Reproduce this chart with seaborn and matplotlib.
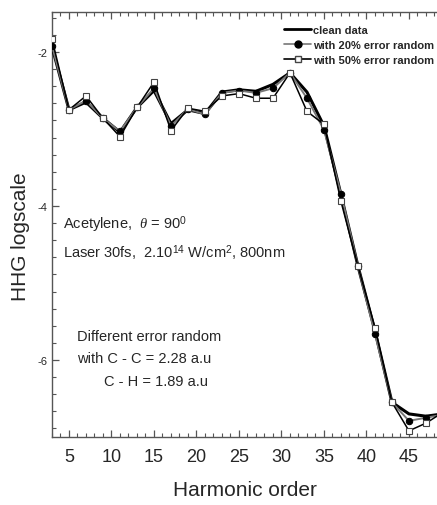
import numpy as np
import pandas as pd
import matplotlib
matplotlib.use("Agg")
import matplotlib.pyplot as plt
from matplotlib.ticker import MultipleLocator
from matplotlib.lines import Line2D
import seaborn as sns

harmonics = [3, 5, 7, 9, 11, 13, 15, 17, 19, 21, 23, 25, 27, 29, 31, 33, 35, 37, 39, 41, 43, 45, 47, 49]
clean = [-1.93, -2.75, -2.65, -2.86, -3.04, -2.72, -2.50, -2.93, -2.75, -2.80, -2.52, -2.49,
         -2.51, -2.42, -2.27, -2.52, -2.96, -3.85, -4.78, -5.62, -6.55, -6.70, -6.73, -6.70]
err20 = [-1.92, -2.75, -2.63, -2.86, -3.03, -2.72, -2.47, -2.96, -2.74, -2.81, -2.53, -2.50,
         -2.53, -2.47, -2.27, -2.60, -3.01, -3.84, -4.78, -5.66, -6.55, -6.79, -6.75, -6.71]
err50 = [-1.83, -2.75, -2.57, -2.86, -3.10, -2.72, -2.39, -3.02, -2.73, -2.77, -2.57, -2.54,
         -2.60, -2.60, -2.27, -2.77, -2.94, -3.94, -4.78, -5.58, -6.55, -6.92, -6.82, -6.68]

sns.set_style("ticks")
plt.rcParams['font.family'] = ['Liberation Sans', 'DejaVu Sans']
plt.rcParams['mathtext.fontset'] = 'custom'
plt.rcParams['mathtext.it'] = 'Liberation Serif:italic'
plt.rcParams['mathtext.rm'] = 'Liberation Sans'

fig = plt.figure(figsize=(4.37, 5.06), dpi=100)
ax = fig.add_axes([52/437, 68/506, (437-52)/437, (438-13)/506])

df = pd.DataFrame({"H": harmonics, "clean": clean, "e20": err20, "e50": err50})

sns.lineplot(data=df, x="H", y="clean", ax=ax, color="black", lw=2.2, zorder=3)
sns.lineplot(data=df, x="H", y="e20", ax=ax, color="#777777", lw=1.4, marker="o",
             markersize=4.6, markerfacecolor="black", markeredgecolor="black", zorder=4)
sns.lineplot(data=df, x="H", y="e50", ax=ax, color="black", lw=1.1, marker="s",
             markersize=5, markerfacecolor="white", markeredgecolor="#444444",
             markeredgewidth=0.8, zorder=5)

ax.set_xlim(3, 48.3)
ax.set_ylim(-7.0, -1.48)
ax.xaxis.set_major_locator(MultipleLocator(5))
ax.xaxis.set_minor_locator(MultipleLocator(1))
ax.yaxis.set_major_locator(MultipleLocator(2))
ax.yaxis.set_minor_locator(MultipleLocator(2/9))
ax.tick_params(axis='both', which='both', direction='in', top=True, right=False, color='#555555')
ax.tick_params(axis='both', which='major', length=5, width=0.9)
ax.tick_params(axis='both', which='minor', length=3, width=0.8)
ax.tick_params(axis='x', labelsize=13, pad=8)
ax.tick_params(axis='y', labelsize=8, pad=3)
ax.set_yticks([-6, -4, -2])
ax.set_yticklabels(["-6", "-4", "-2"])
for s in ['left', 'bottom', 'top']:
    ax.spines[s].set_color('#555555')
    ax.spines[s].set_linewidth(1.0)
ax.spines['right'].set_visible(False)

ax.set_xlabel("Harmonic order", fontsize=15)
ax.set_ylabel("HHG logscale", fontsize=15)
ax.xaxis.set_label_coords((245-52)/(437-52), -0.102)
ax.yaxis.set_label_coords(-0.058, (438-237)/(438-13))

def fc(px, py):
    return ((px-52)/(437-52), (438-py)/(438-13))

ax.text(*fc(63, 225), r"Acetylene,  $\theta$ = 90$^{0}$", transform=ax.transAxes,
        fontsize=10.5, va='center', ha='left')
ax.text(*fc(63, 253), r"Laser 30fs,  2.10$^{14}$ W/cm$^{2}$, 800nm", transform=ax.transAxes,
        fontsize=10.5, va='center', ha='left')
ax.text(*fc(77, 337), "Different error random", transform=ax.transAxes,
        fontsize=10.5, va='center', ha='left')
ax.text(*fc(77, 359), "with C - C = 2.28 a.u", transform=ax.transAxes,
        fontsize=10.5, va='center', ha='left')
ax.text(*fc(104, 382), "C - H = 1.89 a.u", transform=ax.transAxes,
        fontsize=10.5, va='center', ha='left')

handles = [
    Line2D([], [], color='black', lw=2.0),
    Line2D([], [], color='#777777', lw=1.2, marker='o', markersize=5,
           markerfacecolor='black', markeredgecolor='black'),
    Line2D([], [], color='black', lw=1.2, marker='s', markersize=5,
           markerfacecolor='white', markeredgecolor='#444444'),
]
labels = ["clean data", "with 20% error random", "with 50% error random"]
leg = ax.legend(handles, labels, loc='upper right', bbox_to_anchor=(1.01, 0.985),
                frameon=False, prop={'weight': 'bold', 'size': 8}, handlelength=2.4,
                handletextpad=0.2, labelspacing=0.45, borderaxespad=0.2)

fig.savefig("out.png", dpi=100)
